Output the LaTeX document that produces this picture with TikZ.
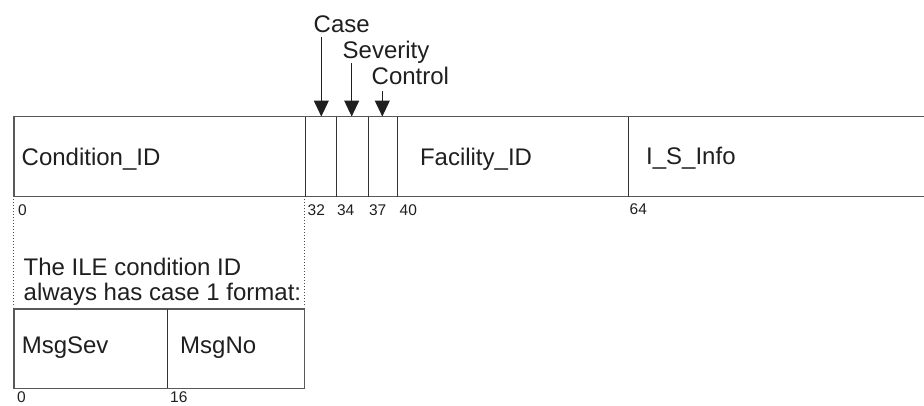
\documentclass[tikz,border=0pt]{standalone}
\usepackage{fontspec}
\setmainfont{Liberation Sans}
\usetikzlibrary{arrows.meta}
\begin{document}
\begin{tikzpicture}[x=1pt,y=-1pt,
  box/.style={draw=black!65, line width=1.3pt},
  divider/.style={draw=black!80, line width=1pt},
  lbl/.style={anchor=base west, inner sep=0pt, font=\fontsize{24}{26}\selectfont, text=black!88},
  bit/.style={anchor=base west, inner sep=0pt, font=\fontsize{15.5}{17}\selectfont, text=black!88},
  ptr/.style={draw=black!88, line width=1pt, -{Triangle[width=15pt,length=16pt]}},
  guide/.style={draw=black!70, line width=1pt, dotted}]
\useasboundingbox (0,0) rectangle (924,405);

% main bar (open on the right)
\draw[box] (924,116.5) -- (14,116.5) -- (14,196.5) -- (924,196.5);
\foreach \x/\n in {305.5/d32, 336.5/d34, 368.7/d37, 397.3/d40, 628.3/d64} {
  \coordinate (\n top) at (\x,116.5);
  \draw[divider] (\n top) -- (\x,196.5);
}

% field labels
\node[lbl] (cond) at (21.5,165.5) {Condition\_ID};
\node[lbl] (fac) at (419.8,165.5) {Facility\_ID};
\node[lbl] (isi) at (646,164.5) {I\_S\_Info};

% bit positions
\node[bit] (b0) at (18,215) {0};
\node[bit] (b32) at (307.5,215) {32};
\node[bit] (b34) at (336.8,215) {34};
\node[bit] (b37) at (368.8,215) {37};
\node[bit] (b40) at (399.5,215) {40};
\node[bit] (b64) at (629.5,214) {64};

% pointer labels and arrows
\node[lbl] (case) at (313.5,32.3) {Case};
\node[lbl] (sev) at (342.5,58) {Severity};
\node[lbl] (ctl) at (371.5,84.5) {Control};
\coordinate (caseS) at (321.3,37);
\coordinate (caseT) at (321.3,116.5);
\coordinate (sevS) at (351.7,63);
\coordinate (sevT) at (351.7,116.5);
\coordinate (ctlS) at (382.3,91);
\coordinate (ctlT) at (382.3,116.5);
\draw[ptr] (caseS) -- (caseT);
\draw[ptr] (sevS) -- (sevT);
\draw[ptr] (ctlS) -- (ctlT);

% dotted guides
\coordinate (gl1) at (13.5,199);
\coordinate (gl2) at (13.5,307);
\coordinate (gr1) at (304.7,199);
\coordinate (gr2) at (304.7,307);
\draw[guide] (gl1) -- (gl2);
\draw[guide] (gr1) -- (gr2);

% explanation
\node[lbl] (note1) at (23.5,275.3) {The ILE condition ID};
\node[lbl] (note2) at (23.5,300.5) {always has case 1 format:};

% small box
\draw[box] (14,309) rectangle (304.5,388.3);
\draw[divider] (167.3,309) -- (167.3,388.3);
\node[lbl] (sev2) at (21.6,353.3) {MsgSev};
\node[lbl] (no2) at (180,353.3) {MsgNo};
\node[bit] (s0) at (16.8,402.5) {0};
\node[bit] (s16) at (170,402.5) {16};
\end{tikzpicture}
\end{document}
